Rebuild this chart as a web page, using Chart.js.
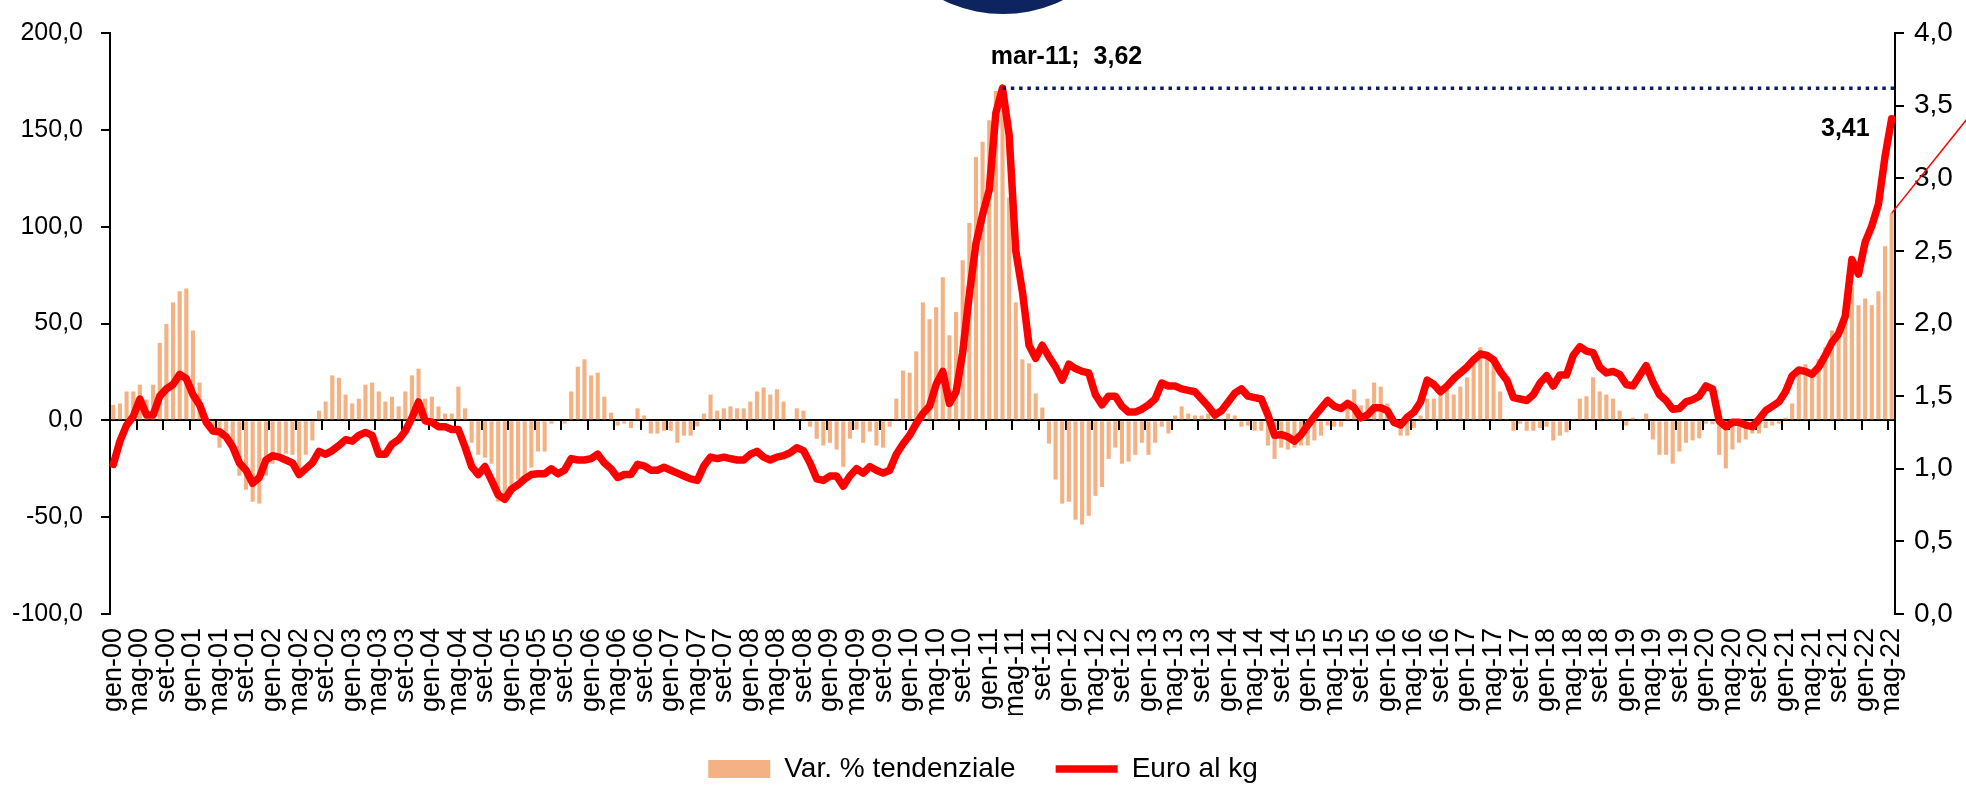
<!DOCTYPE html>
<html>
<head>
<meta charset="utf-8">
<script src="https://cdn.jsdelivr.net/npm/chart.js@4/dist/chart.umd.min.js"></script>
<style>
  html, body { margin: 0; padding: 0; background: #fff; }
  .chart-box { width: 1966px; height: 785px; position: relative; }
</style>
</head>
<body>
<div class="chart-box"><canvas id="chart"></canvas></div>
<script>
const monthNames = ['gen', 'feb', 'mar', 'apr', 'mag', 'giu', 'lug', 'ago', 'set', 'ott', 'nov', 'dic'];
const years = ['00', '01', '02', '03', '04', '05', '06', '07', '08', '09', '10', '11',
  '12', '13', '14', '15', '16', '17', '18', '19', '20', '21', '22'];
const lastMonth = 4; // mag-22

const categories = [];
years.forEach((y, yi) => {
  monthNames.forEach((m, mi) => {
    if (yi === years.length - 1 && mi > lastMonth) return;
    categories.push(`${m}-${y}`);
  });
});

// Var. % tendenziale (asse sx)
const varTendenziale = [
  8, 8.7, 14.9, 14.9, 18.4, 10.8, 18.4, 40, 49.7, 60.9, 66.7, 68.1,
  46.4, 19.5, -2, -3, -14.1, -5.8, -12, -28.6, -35.8, -42, -43, -28.6,
  -22.4, -19.3, -17.2, -17.8, -25.5, -17.8, -10.4, 5, 9.7, 23.2, 22, 13.3,
  8.7, 11.2, 18.4, 19.5, 14.9, 9.7, 12.2, 7.2, 14.9, 23.2, 26.7, 11.2,
  12.2, 7.2, 3.5, 3.5, 17.4, 6.2, -11.6, -17.8, -19.3, -22.4, -42, -41,
  -33.7, -30.6, -29.6, -24.4, -16.1, -16.1, -1.7, -0.5, -1.7, 14.9, 27.7, 31.5,
  23.2, 24.6, 12.2, 3.9, -2.7, -1.7, -4, 6.2, 2.5, -6.8, -6.8, -5.4,
  -5.4, -11.6, -7.9, -7.9, -3.1, 3.5, 13.3, 5, 6.2, 7.2, 6.2, 6.2,
  9.7, 14.9, 17, 13.3, 16, 9.7, 0.5, 6.2, 5, -3.3, -9.5, -13,
  -11.6, -15.1, -24, -9.5, -4.8, -11.6, -5.8, -13, -14.1, -3.3, 11.2, 25.7,
  24.6, 35.6, 60.9, 52.2, 58.4, 73.9, 43.9, 55.9, 82.6, 101.9, 136, 143.9,
  155, 170, 160, 115, 60.9, 31.5, 29.4, 13.9, 6.6, -12, -30.6, -43,
  -42, -51.3, -53.8, -49.3, -39, -34.4, -19.9, -14.1, -22.4, -21.3, -17.8, -11.6,
  -17.8, -11.6, -3.3, -6.8, 2.5, 7.2, 3.5, 2.5, 2.5, 3.5, 1.4, 0.8,
  3.5, 2.5, -3.3, -2.7, -5.4, -5.4, -13, -19.9, -14.1, -15.1, -14.1, -13,
  -13, -10.4, -7.9, -2.7, -3.3, -3.3, 6.6, 16, 7.7, 11.2, 19.5, 17.4,
  8.7, -2.7, -7.9, -7.9, -4, 2.5, 11.2, 11.2, 16, 16, 13.3, 17.4,
  22.2, 31.5, 37.7, 35.2, 29.8, 14.9, 0.4, -5.4, -1.7, -5.4, -5.4, -4,
  -3.3, -10.4, -7.9, -6.2, 0.4, 11.2, 12.4, 22.2, 14.9, 13.3, 11.2, 5,
  -2.7, 1.4, 0.4, 3.5, -9.9, -17.8, -17.8, -22.4, -16.1, -11.6, -10.4, -9.3,
  -1.7, -2, -17.8, -24.8, -15.1, -11.6, -9.9, -6.8, -6.8, -4, -2.7, -1.7,
  1.4, 8.7, 25.3, 29, 24.2, 31.5, 37.7, 46.4, 46.4, 55, 68.7, 59.4,
  62.9, 59.4, 66.7, 89.9, 107
];

// Euro al kg (asse dx)
const euroKg = [
  1.03, 1.19, 1.30, 1.36, 1.48, 1.37, 1.37, 1.50, 1.55, 1.58, 1.65, 1.62,
  1.51, 1.44, 1.32, 1.26, 1.255, 1.22, 1.15, 1.04, 0.99, 0.90, 0.94, 1.06,
  1.09, 1.08, 1.06, 1.04, 0.96, 1.00, 1.04, 1.12, 1.10, 1.125, 1.16, 1.20,
  1.19, 1.23, 1.25, 1.23, 1.10, 1.10, 1.17, 1.20, 1.26, 1.35, 1.46, 1.33,
  1.32, 1.29, 1.29, 1.27, 1.27, 1.15, 1.015, 0.96, 1.015, 0.92, 0.82, 0.79,
  0.86, 0.89, 0.93, 0.96, 0.965, 0.965, 1.00, 0.965, 0.99, 1.07, 1.06, 1.06,
  1.07, 1.10, 1.04, 1.00, 0.94, 0.96, 0.96, 1.03, 1.02, 0.99, 0.99, 1.01,
  0.99, 0.97, 0.95, 0.93, 0.92, 1.02, 1.08, 1.07, 1.08, 1.07, 1.06, 1.06,
  1.10, 1.12, 1.08, 1.06, 1.08, 1.09, 1.11, 1.145, 1.125, 1.04, 0.93, 0.92,
  0.95, 0.95, 0.88, 0.95, 1.00, 0.97, 1.015, 0.99, 0.97, 0.99, 1.10, 1.17,
  1.23, 1.31, 1.38, 1.43, 1.58, 1.67, 1.45, 1.53, 1.80, 2.20, 2.55, 2.75,
  2.92, 3.45, 3.62, 3.30, 2.50, 2.22, 1.85, 1.76, 1.85, 1.77, 1.70, 1.61,
  1.72, 1.69, 1.67, 1.66, 1.51, 1.44, 1.50, 1.50, 1.43, 1.39, 1.39, 1.41,
  1.44, 1.48, 1.59, 1.57, 1.57, 1.55, 1.54, 1.53, 1.48, 1.43, 1.37, 1.40,
  1.46, 1.52, 1.55, 1.50, 1.49, 1.48, 1.37, 1.23, 1.235, 1.22, 1.19, 1.235,
  1.30, 1.36, 1.415, 1.47, 1.43, 1.415, 1.45, 1.42, 1.35, 1.37, 1.42, 1.42,
  1.40, 1.32, 1.30, 1.355, 1.39, 1.46, 1.61, 1.58, 1.53, 1.57, 1.62, 1.66,
  1.70, 1.75, 1.79, 1.78, 1.75, 1.67, 1.61, 1.49, 1.48, 1.47, 1.51, 1.59,
  1.64, 1.57, 1.645, 1.645, 1.78, 1.84, 1.81, 1.80, 1.70, 1.66, 1.67, 1.65,
  1.58, 1.57, 1.64, 1.71, 1.60, 1.51, 1.47, 1.41, 1.415, 1.46, 1.475, 1.50,
  1.57, 1.55, 1.33, 1.29, 1.32, 1.32, 1.30, 1.29, 1.34, 1.40, 1.43, 1.46,
  1.53, 1.64, 1.68, 1.67, 1.65, 1.70, 1.78, 1.87, 1.93, 2.05, 2.44, 2.34,
  2.56, 2.67, 2.82, 3.15, 3.41
];

const peakIndex = categories.indexOf('mar-11');
const peakLabel = 'mar-11;  3,62';
const lastLabel = '3,41';

const regular = '"Liberation Sans", Arial, sans-serif';
const comma = v => Number(v).toFixed(1).replace('.', ',');

const annotations = {
  id: 'annotations',
  afterDatasetsDraw(chart) {
    const { ctx, chartArea, scales } = chart;
    const x = scales.x, yR = scales.y1, yL = scales.y;
    ctx.save();

    // linea punteggiata al massimo
    const px = x.getPixelForValue(peakIndex);
    const py = yR.getPixelForValue(euroKg[peakIndex]);
    ctx.strokeStyle = '#0b215e';
    ctx.lineWidth = 3.5;
    ctx.setLineDash([3.5, 4.8]);
    ctx.beginPath();
    ctx.moveTo(px, py);
    ctx.lineTo(chartArea.right, py);
    ctx.stroke();
    ctx.setLineDash([]);

    ctx.fillStyle = '#000';
    ctx.font = `bold 25px ${regular}`;
    ctx.textAlign = 'center';
    ctx.textBaseline = 'middle';
    ctx.fillText(peakLabel, px + 64, py - 31);

    const last = euroKg.length - 1;
    const lx = x.getPixelForValue(last);
    const ly = yR.getPixelForValue(euroKg[last]);
    ctx.textAlign = 'right';
    ctx.fillText(lastLabel, lx - 22, ly + 10);

    // linea di richiamo rossa verso destra
    const by = yL.getPixelForValue(varTendenziale[last]);
    ctx.strokeStyle = '#ff0000';
    ctx.lineWidth = 1.5;
    ctx.beginPath();
    ctx.moveTo(lx, by);
    ctx.lineTo(lx + 80, by - 100);
    ctx.stroke();

    // logo in alto
    ctx.fillStyle = '#0e2461';
    ctx.beginPath();
    ctx.arc(1003, -122, 136, 0, Math.PI * 2);
    ctx.fill();
    ctx.restore();
  }
};

new Chart(document.getElementById('chart'), {
  type: 'bar',
  data: {
    labels: categories,
    datasets: [
      {
        type: 'bar',
        label: 'Var. % tendenziale',
        data: varTendenziale,
        backgroundColor: '#f4b183',
        borderWidth: 0,
        barPercentage: 0.62,
        categoryPercentage: 1,
        yAxisID: 'y',
        xAxisID: 'x',
        pointStyle: 'rect',
        order: 2
      },
      {
        type: 'line',
        label: 'Euro al kg',
        data: euroKg,
        borderColor: '#ff0000',
        backgroundColor: '#ff0000',
        borderWidth: 7.5,
        borderJoinStyle: 'round',
        borderCapStyle: 'round',
        pointRadius: 0,
        tension: 0,
        yAxisID: 'y1',
        xAxisID: 'x',
        pointStyle: 'line',
        order: 1
      }
    ]
  },
  options: {
    responsive: true,
    maintainAspectRatio: false,
    animation: false,
    layout: { padding: { top: 16, left: 0, right: 0, bottom: -8 } },
    plugins: {
      tooltip: { enabled: false },
      legend: {
        position: 'bottom',
        labels: {
          usePointStyle: true,
          pointStyleWidth: 62,
          boxHeight: 18,
          padding: 40,
          color: '#000',
          font: { family: regular, size: 28 },
          sort: (a, b) => a.datasetIndex - b.datasetIndex
        }
      }
    },
    scales: {
      x: {
        type: 'category',
        offset: true,
        grid: { display: false, drawTicks: false },
        border: { display: false },
        ticks: {
          autoSkip: false,
          minRotation: 90,
          maxRotation: 90,
          padding: 14,
          color: '#000',
          font: { family: regular, size: 27 },
          callback: (v, i) => (i % 4 === 0 ? categories[i] : '')
        },
        afterFit: scale => { scale.height = 101; }
      },
      x0: {
        type: 'category',
        offset: true,
        position: { y: 0 },
        grid: {
          offset: true,
          drawOnChartArea: false,
          drawTicks: true,
          tickLength: 9,
          lineWidth: 2,
          color: ctx => (ctx.index % 4 === 0 ? '#000' : 'rgba(0,0,0,0)')
        },
        border: { display: true, color: '#000', width: 2 },
        ticks: { display: false, autoSkip: false }
      },
      y: {
        position: 'left',
        min: -100,
        max: 200,
        grid: { drawOnChartArea: false, color: '#000', lineWidth: 2, tickLength: 9 },
        border: { display: true, color: '#000', width: 2 },
        ticks: {
          stepSize: 50,
          padding: 18,
          color: '#000',
          font: { family: regular, size: 25 },
          callback: v => comma(v)
        },
        afterFit: scale => { scale.width = 110; }
      },
      y1: {
        position: 'right',
        min: 0,
        max: 4,
        grid: { drawOnChartArea: false, color: '#000', lineWidth: 2, tickLength: 9 },
        border: { display: true, color: '#000', width: 2 },
        ticks: {
          stepSize: 0.5,
          padding: 10,
          color: '#000',
          font: { family: regular, size: 28 },
          callback: v => comma(v)
        },
        afterFit: scale => { scale.width = 71; }
      }
    }
  },
  plugins: [annotations]
});
</script>
</body>
</html>
